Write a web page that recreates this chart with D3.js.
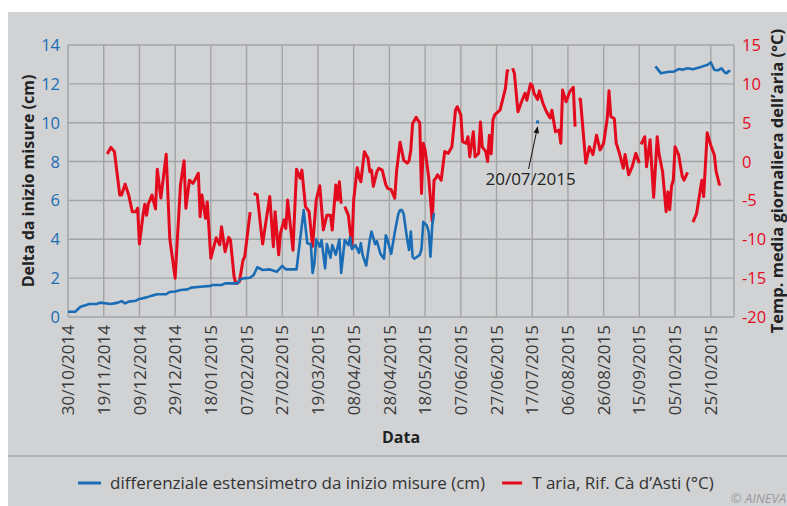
<!DOCTYPE html>
<html><head><meta charset="utf-8">
<script src="https://cdn.jsdelivr.net/npm/d3@7"></script>
<style>
body{margin:0;background:#fff;}
svg{display:block;font-family:"Open Sans",sans-serif;}
</style>
</head><body>
<svg id="c" width="787" height="506"></svg>
<script>
// ---------- DATA ----------
const startDate = "2014-10-30";   // day 0 of the measurements
const endDate = "2015-11-07";     // end of x domain
const tickDates = ["2014-10-30","2014-11-19","2014-12-09","2014-12-29","2015-01-18","2015-02-07",
  "2015-02-27","2015-03-19","2015-04-08","2015-04-28","2015-05-18","2015-06-07","2015-06-27",
  "2015-07-17","2015-08-06","2015-08-26","2015-09-15","2015-10-05","2015-10-25"];
const leftTicks = [0,2,4,6,8,10,12,14];
const rightTicks = [-20,-15,-10,-5,0,5,10,15];

// extensometer differential (cm) : days since start, value (null = gap)
const estDays = [0,4,7,12,16,18,24,28,30,32,34,38,40,44,47,50,55,57,60,63,67,69,74,80,81,86,88,95,96,98,
  102,104,106,109,113,117,120,122,128,132,134,136,137,138,139,141,142,144,145,147,148,150,152,153,155,157,
  158,159,161,163,164,165,167,169,170,172,173,175,177,178,179,181,183,185,186,187,188,190,191,192,193,194,
  197,198,199,201,202,203,204,205,250,
  329,332,335,337,339,342,343,344,347,350,352,354,357,358,360,362,364,366,368,369,370,371];
const estValues = [0.27,0.27,0.53,0.67,0.67,0.74,0.67,0.74,0.82,0.70,0.79,0.84,0.93,1.01,1.10,1.17,1.17,1.29,1.31,1.39,1.42,1.51,1.56,1.60,1.65,1.65,1.73,1.73,1.90,1.99,
  2.02,2.16,2.56,2.42,2.45,2.33,2.63,2.45,2.45,5.5,3.8,3.75,2.27,2.76,4.0,3.62,3.96,2.5,3.75,3.05,3.7,3.2,4.0,2.27,3.96,3.7,
  4.1,3.5,3.7,3.3,3.8,3.2,2.65,3.96,4.4,3.75,3.9,3.25,3.0,4.2,3.96,3.25,4.35,5.3,5.5,5.5,5.3,3.96,3.45,4.4,3.1,3.0,
  3.2,3.5,4.9,4.7,4.4,3.1,4.7,5.35,null,
  12.9,12.55,12.6,12.62,12.62,12.76,12.76,12.72,12.8,12.75,12.8,12.85,12.95,12.97,13.1,12.71,12.7,12.8,12.57,12.55,12.66,12.65];
const estSingleDay = 263;          // isolated reading
const estSingleValue = 10.04;
const annotationText = "20/07/2015";

// air temperature (°C) : days since start, value (null = gap)
const tempDays = [22,24,26,29,30,32,34,36,38,39,40,42,43,44,45,46,47,49,50,52,55,57,60,63,65,66,68,70,71,73,74,75,77,78,
  80,83,85,86,88,90,91,93,94,96,98,99,102,103,104,106,108,109,111,113,115,116,118,119,121,122,123,126,128,130,131,133,
  135,137,139,141,143,145,147,148,150,151,152,153,154,155,157,159,160,162,163,164,166,168,169,170,171,173,174,176,178,
  179,181,183,184,186,188,190,191,192,193,195,196,197,198,199,200,202,204,205,206,207,209,211,213,215,217,218,220,221,
  223,224,225,227,228,230,231,232,234,235,236,237,238,239,242,245,246,247,248,249,250,252,254,256,257,259,260,261,263,
  264,266,268,270,271,273,275,276,277,279,281,283,284,285,286,287,290,292,294,296,298,300,302,303,304,306,307,309,311,
  312,314,316,318,320,320.5,321,323,324,326,328,330,331,333,335,336,337,338,339,340,342,344,345,347,348,350,352,355,356,
  358,360,362,363,365];
const tempValues = [0.97,1.83,1.27,-4.3,-4.3,-2.9,-4.3,-6.45,-6.45,-6.0,-10.6,-6.9,-5.5,-6.9,-5.4,-4.95,-4.3,-6.1,-1.0,-4.7,0.94,-9.9,-15.0,-3.0,0.1,-6.0,-2.4,-2.8,-2.4,-1.5,-7.1,-4.3,-7.3,-5.2,
  -12.45,-9.8,-10.7,-8.4,-11.6,-9.75,-10.1,-14.8,-15.7,-15.45,-12.7,-12.2,-6.5,null,-4.1,-4.3,-8.6,-10.6,-7.5,-4.5,-10.95,-6.45,-12.0,-9.2,-7.5,-8.6,-4.95,-11.4,-1.0,-2.15,-1.1,-5.8,
  -6.45,-10.9,-4.95,-3.1,-8.8,-6.9,-6.9,-8.8,-3.0,-4.95,-2.6,-5.4,null,-5.8,-6.9,-10.95,-4.95,-0.8,-2.0,-2.6,1.27,0.42,-1.3,-1.1,-3.2,-1.3,-0.87,-1.1,-3.0,
  -3.44,-3.6,-4.7,-1.3,2.5,0.2,-0.2,0.1,1.5,4.9,5.7,5.3,5.0,-4.1,2.35,1.5,-2.0,-7.7,-2.4,-2.15,-1.7,-2.4,1.3,1.06,1.9,6.6,7.06,6.0,2.56,
  2.35,3.2,0.63,3.84,0.63,1.06,5.1,1.9,1.27,0,3.4,1.0,5.35,6.0,6.64,9.43,11.7,11.6,null,12.0,11.36,6.4,7.7,8.8,7.9,10.0,9.8,8.8,8.0,
  9.1,7.5,6.4,5.6,6.6,3.84,4.06,2.35,9.2,7.7,9.0,9.56,4.5,null,8.1,8.0,-0.2,1.9,0.9,3.4,1.5,2.35,5.57,9.1,5.8,5.5,2.4,0.94,-0.87,
  0.9,-1.7,-0.66,1.06,-0.2,null,2.2,3.2,-0.66,2.8,-4.6,3.2,1.0,-1.3,-6.45,-3.9,-6.2,-3.2,-2.4,1.9,0.85,-1.9,-2.4,-1.4,null,-7.8,-6.7,-2.4,-4.5,
  3.7,2.1,0.85,-1.3,-3.1];

const labels = {
  x: "Data",
  yLeft: "Delta da inizio misure (cm)",
  yRight: "Temp. media giornaliera dell\u2019aria (\u00b0C)",
  legendEst: "differenziale estensimetro da inizio misure (cm)",
  legendTemp: "T aria, Rif. C\u00e0 d\u2019Asti (\u00b0C)",
  copyright: "\u00a9 AINEVA"
};

// ---------- DRAW ----------
const BLUE = "#1a6db5", RED = "#e30a1d", GRID = "#a3a4a6", BG = "#d1d2d4";
const svg = d3.select("#c");
const M = {left: 68, right: 734, top: 45, bottom: 317};

svg.append("rect").attr("x", 8).attr("y", 12).attr("width", 779).attr("height", 494).attr("fill", BG);
svg.append("line").attr("x1", 8).attr("x2", 787).attr("y1", 456).attr("y2", 456)
  .attr("stroke", "#a6a7a9").attr("stroke-width", 1.5);

const parse = d3.utcParse("%Y-%m-%d");
const t0 = parse(startDate);
const dayToDate = d => d3.utcDay.offset(t0, Math.floor(d));
const x = d3.scaleUtc().domain([t0, parse(endDate)]).range([M.left, M.right]);
const yL = d3.scaleLinear().domain([0, 14]).range([M.bottom, M.top]);
const yR = d3.scaleLinear().domain([-20, 15]).range([M.bottom, M.top]);
const ticks = tickDates.map(parse);
const fmt = d3.utcFormat("%d/%m/%Y");

// grid
const g = svg.append("g");
g.selectAll(".hg").data(leftTicks).join("line")
  .attr("x1", M.left).attr("x2", M.right).attr("y1", d => yL(d)).attr("y2", d => yL(d))
  .attr("stroke", GRID).attr("stroke-width", 1.4);
g.selectAll(".vg").data(ticks).join("line")
  .attr("x1", d => x(d)).attr("x2", d => x(d)).attr("y1", M.top).attr("y2", M.bottom)
  .attr("stroke", GRID).attr("stroke-width", 1.4);
g.append("line").attr("x1", M.right).attr("x2", M.right).attr("y1", M.top).attr("y2", M.bottom)
  .attr("stroke", GRID).attr("stroke-width", 1.4);

// axes labels
svg.append("g").selectAll("text").data(leftTicks).join("text")
  .attr("x", M.left - 8).attr("y", d => yL(d)).attr("dy", "0.36em")
  .attr("text-anchor", "end").attr("fill", BLUE).attr("font-size", 16.5).text(d => d);
svg.append("g").selectAll("text").data(rightTicks).join("text")
  .attr("x", M.right + 8).attr("y", d => yR(d)).attr("dy", "0.36em")
  .attr("text-anchor", "start").attr("fill", RED).attr("font-size", 16.5).text(d => d);
svg.append("g").selectAll("text").data(ticks).join("text")
  .attr("transform", d => `translate(${x(d)},${M.bottom + 8}) rotate(-90)`)
  .attr("dy", "0.36em").attr("text-anchor", "end").attr("fill", "#3a3a3a")
  .attr("font-size", 17).text(d => fmt(d));

svg.append("text").attr("x", (M.left + M.right) / 2).attr("y", 443).attr("text-anchor", "middle")
  .attr("font-weight", "bold").attr("font-size", 16).attr("fill", "#222").text(labels.x);
svg.append("text").attr("transform", `translate(28,${(M.top + M.bottom) / 2}) rotate(-90)`)
  .attr("dy", "0.36em").attr("text-anchor", "middle").attr("font-weight", "bold")
  .attr("font-size", 16).attr("fill", "#222").text(labels.yLeft);
svg.append("text").attr("transform", `translate(777,${(M.top + M.bottom) / 2}) rotate(-90)`)
  .attr("dy", "0.36em").attr("text-anchor", "middle").attr("font-weight", "bold")
  .attr("font-size", 16.5).attr("fill", "#222").text(labels.yRight);

// series
const estData = estDays.map((d, i) => ({date: dayToDate(d), v: estValues[i]}));
const tempData = tempDays.map((d, i) => ({date: dayToDate(d), v: tempValues[i]}));
const lineL = d3.line().defined(d => d.v != null).x(d => x(d.date)).y(d => yL(d.v));
const lineR = d3.line().defined(d => d.v != null).x(d => x(d.date)).y(d => yR(d.v));

svg.append("path").datum(tempData).attr("d", lineR).attr("fill", "none")
  .attr("stroke", RED).attr("stroke-width", 3).attr("stroke-linejoin", "round");
svg.append("path").datum(estData).attr("d", lineL).attr("fill", "none")
  .attr("stroke", BLUE).attr("stroke-width", 2.6).attr("stroke-linejoin", "round");

// isolated point + annotation
const px = x(dayToDate(estSingleDay)), py = yL(estSingleValue);
svg.append("rect").attr("x", px - 1.5).attr("y", py - 1.5).attr("width", 3).attr("height", 3).attr("fill", BLUE);
svg.append("defs").append("marker").attr("id", "ah").attr("viewBox", "0 0 10 10")
  .attr("refX", 9).attr("refY", 5).attr("markerWidth", 7).attr("markerHeight", 7)
  .attr("orient", "auto").append("path").attr("d", "M0,1 L10,5 L0,9 Z").attr("fill", "#111");
svg.append("line").attr("x1", px - 9).attr("y1", py + 47).attr("x2", px).attr("y2", py + 5)
  .attr("stroke", "#111").attr("stroke-width", 1).attr("marker-end", "url(#ah)");
svg.append("text").attr("x", px - 7).attr("y", py + 63).attr("text-anchor", "middle")
  .attr("font-size", 17).attr("fill", "#222").text(annotationText);

// legend
const leg = svg.append("g");
leg.append("line").attr("x1", 78).attr("x2", 101).attr("y1", 483).attr("y2", 483)
  .attr("stroke", BLUE).attr("stroke-width", 3);
const t1 = leg.append("text").attr("x", 110).attr("y", 483).attr("dy", "0.36em")
  .attr("font-size", 17).attr("fill", "#333").text(labels.legendEst);
const x2 = 110 + t1.node().getComputedTextLength() + 17;
leg.append("line").attr("x1", x2).attr("x2", x2 + 20).attr("y1", 483).attr("y2", 483)
  .attr("stroke", RED).attr("stroke-width", 3);
leg.append("text").attr("x", x2 + 30).attr("y", 483).attr("dy", "0.36em")
  .attr("font-size", 17).attr("fill", "#333").text(labels.legendTemp);
svg.append("text").attr("x", 786).attr("y", 503).attr("text-anchor", "end")
  .attr("font-size", 13).attr("font-style", "italic").attr("fill", "#9a9b9d").text(labels.copyright);
</script>
</body></html>
